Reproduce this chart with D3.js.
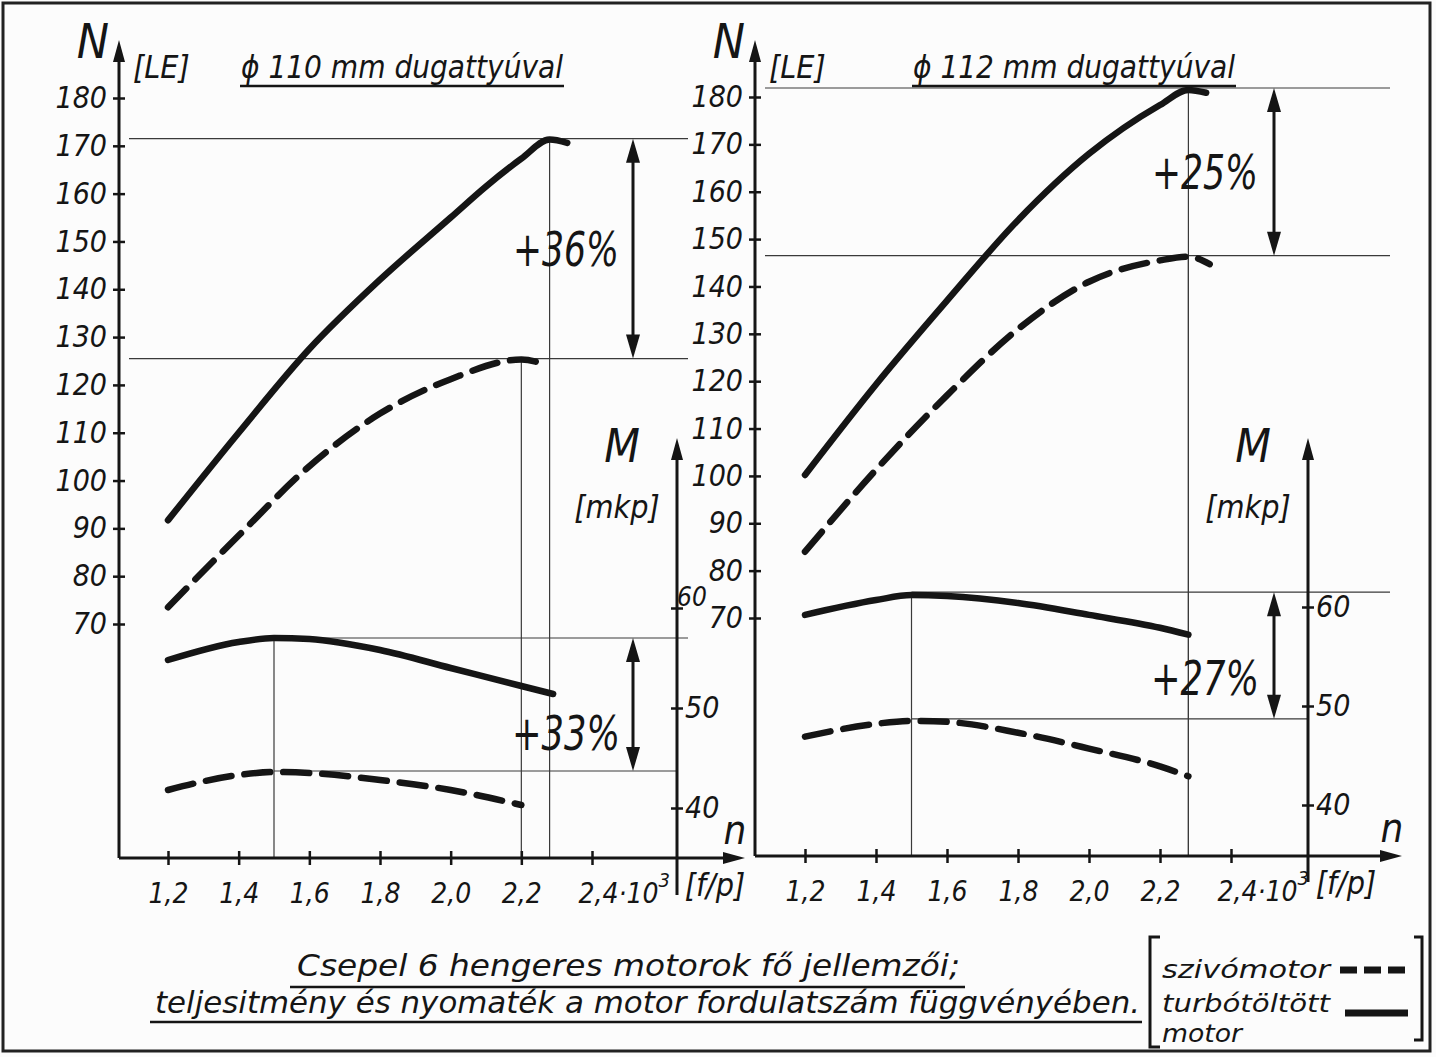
<!DOCTYPE html>
<html>
<head>
<meta charset="utf-8">
<script src="https://cdn.jsdelivr.net/npm/d3@7"></script>
<style>
  body { margin: 0; background: #fff; }
  svg text {
    font-family: "Liberation Sans Narrow", "DejaVu Sans Condensed", "Roboto Condensed", sans-serif;
    font-style: italic;
    fill: #151515;
  }
</style>
</head>
<body>
<svg></svg>
<script>
// tick values
const speedTicks = [1.2, 1.4, 1.6, 1.8, 2.0, 2.2, 2.4];
const powerTicks = [70, 80, 90, 100, 110, 120, 130, 140, 150, 160, 170, 180];
const torqueTicks = [40, 50, 60];

// left panel: ϕ 110 mm  [n (1000 f/p), value]
const leftTurboPower = [[1.2, 91.7], [1.4, 110], [1.6, 127.5], [1.8, 142], [2.0, 155], [2.1, 161.5], [2.2, 167.3], [2.28, 171.3], [2.33, 170.6]];
const leftSuctionPower = [[1.2, 73.5], [1.4, 88.5], [1.6, 103], [1.8, 114], [2.0, 121.2], [2.2, 125.3], [2.27, 124.2]];
const leftTurboTorque = [[1.2, 54.8], [1.4, 56.6], [1.5, 57], [1.6, 56.9], [1.8, 55.8], [2.0, 54.0], [2.2, 52.2], [2.29, 51.4]];
const leftSuctionTorque = [[1.2, 41.8], [1.4, 43.3], [1.5, 43.6], [1.6, 43.5], [1.8, 42.8], [2.0, 41.8], [2.2, 40.3]];

// right panel: ϕ 112 mm
const rightTurboPower = [[1.2, 100.2], [1.4, 119.3], [1.6, 137], [1.8, 154], [2.0, 168], [2.2, 178.3], [2.28, 181.5], [2.33, 180.9]];
const rightSuctionPower = [[1.2, 84], [1.4, 101.3], [1.6, 117], [1.8, 131], [2.0, 141], [2.2, 145.5], [2.28, 146.3], [2.34, 144.7]];
const rightTurboTorque = [[1.2, 59.2], [1.4, 60.7], [1.5, 61.2], [1.6, 61.1], [1.8, 60.4], [2.0, 59.2], [2.2, 57.9], [2.28, 57.2]];
const rightSuctionTorque = [[1.2, 46.9], [1.4, 48.2], [1.5, 48.5], [1.6, 48.4], [1.8, 47.3], [2.0, 45.7], [2.2, 43.9], [2.28, 42.9]];

// reference marks: peaks and gains
const leftRefs = { powerHi: 171.5, powerLo: 125.5, nHi: 2.28, nLo: 2.2, torqueHi: 57, torqueLo: 43.7, nTorque: 1.5 };
const rightRefs = { powerHi: 181.9, powerLo: 146.5, nHi: 2.28, nLo: 2.28, torqueHi: 61.5, torqueLo: 48.7, nTorque: 1.5 };
const titles = ["ϕ 110 mm dugattyúval", "ϕ 112 mm dugattyúval"];
const gains = [["+36%", "+33%"], ["+25%", "+27%"]];

const svg = d3.select("svg").attr("width", 1436).attr("height", 1057);
svg.append("rect").attr("width", 1436).attr("height", 1057).attr("fill", "#fcfcfc");
// frame of the sheet
svg.append("rect").attr("x", 3).attr("y", 3).attr("width", 1427).attr("height", 1048)
  .attr("fill", "none").attr("stroke", "#222").attr("stroke-width", 3);

const ink = "#151515";

function arrowHead(g, x, y, dir, len = 22, w = 6) {
  // dir: "up", "down", "right"
  let pts;
  if (dir === "up") pts = [[x, y], [x - w, y + len], [x + w, y + len]];
  if (dir === "down") pts = [[x, y], [x - w, y - len], [x + w, y - len]];
  if (dir === "right") pts = [[x, y], [x - len, y - w], [x - len, y + w]];
  g.append("path").attr("d", "M" + pts.join("L") + "Z").attr("fill", ink);
}

function panel(cfg, data, refs, title, gain) {
  const g = svg.append("g");
  const x = d3.scaleLinear().domain([1.2, 2.4]).range(cfg.xRange);
  const yN = d3.scaleLinear().domain([70, 180]).range(cfg.nRange);
  const yM = d3.scaleLinear().domain([40, 60]).range(cfg.mRange);

  // thin construction lines
  const thin = g.append("g").attr("stroke", "#3a3a3a").attr("stroke-width", 1.2);
  thin.append("line").attr("x1", cfg.axisX + 10).attr("x2", cfg.refEnd)
    .attr("y1", yN(refs.powerHi)).attr("y2", yN(refs.powerHi));
  thin.append("line").attr("x1", cfg.axisX + 10).attr("x2", cfg.refEnd)
    .attr("y1", yN(refs.powerLo)).attr("y2", yN(refs.powerLo));
  thin.append("line").attr("x1", x(refs.nHi)).attr("x2", x(refs.nHi))
    .attr("y1", yN(refs.powerHi)).attr("y2", cfg.baseY);
  thin.append("line").attr("x1", x(refs.nLo)).attr("x2", x(refs.nLo))
    .attr("y1", yN(refs.powerLo)).attr("y2", cfg.baseY);
  thin.append("line").attr("x1", x(refs.nTorque)).attr("x2", cfg.refEnd)
    .attr("y1", yM(refs.torqueHi)).attr("y2", yM(refs.torqueHi));
  thin.append("line").attr("x1", x(refs.nTorque)).attr("x2", cfg.mAxisX)
    .attr("y1", yM(refs.torqueLo)).attr("y2", yM(refs.torqueLo));
  thin.append("line").attr("x1", x(refs.nTorque)).attr("x2", x(refs.nTorque))
    .attr("y1", yM(refs.torqueHi)).attr("y2", cfg.baseY);

  // N axis
  g.append("line").attr("x1", cfg.axisX).attr("x2", cfg.axisX).attr("y1", cfg.axisTop + 10).attr("y2", cfg.baseY)
    .attr("stroke", ink).attr("stroke-width", 3);
  arrowHead(g, cfg.axisX, cfg.axisTop, "up");
  const axN = g.append("g").attr("transform", `translate(${cfg.axisX + 6},0)`)
    .call(d3.axisLeft(yN).tickValues(powerTicks).tickSize(12).tickPadding(6));
  axN.select(".domain").remove();
  axN.selectAll(".tick line").attr("stroke", ink).attr("stroke-width", 2.5);
  axN.selectAll(".tick text").attr("font-size", 30).attr("font-family", null).attr("fill", ink);

  // n axis
  g.append("line").attr("x1", cfg.axisX).attr("x2", cfg.xEnd - 10).attr("y1", cfg.baseY).attr("y2", cfg.baseY)
    .attr("stroke", ink).attr("stroke-width", 3);
  arrowHead(g, cfg.xEnd, cfg.baseY, "right");
  const axX = g.append("g").attr("transform", `translate(0,${cfg.baseY - 7})`)
    .call(d3.axisBottom(x).tickValues(speedTicks).tickSize(14).tickPadding(18)
      .tickFormat(d => d3.format(".1f")(d).replace(".", ",")));
  axX.select(".domain").remove();
  axX.selectAll(".tick line").attr("stroke", ink).attr("stroke-width", 2.5);
  axX.selectAll(".tick text").attr("font-size", 28).attr("font-family", null).attr("fill", ink);
  const last = axX.selectAll(".tick text").filter(d => d === 2.4)
    .attr("text-anchor", "start").attr("x", -14).text("2,4·10");
  last.append("tspan").attr("dy", -16).attr("font-size", 20).text("3");

  // M axis
  g.append("line").attr("x1", cfg.mAxisX).attr("x2", cfg.mAxisX).attr("y1", cfg.mTop + 10).attr("y2", cfg.mBottom)
    .attr("stroke", ink).attr("stroke-width", 3);
  arrowHead(g, cfg.mAxisX, cfg.mTop, "up");
  const axM = g.append("g").attr("transform", `translate(${cfg.mAxisX - 6},0)`)
    .call(d3.axisRight(yM).tickValues(torqueTicks).tickSize(12).tickPadding(2));
  axM.select(".domain").remove();
  axM.selectAll(".tick line").attr("stroke", ink).attr("stroke-width", 2.5);
  axM.selectAll(".tick text").attr("font-size", 30).attr("font-family", null).attr("fill", ink);
  if (cfg.squeeze60) {
    // the 60 label is squeezed in next to the other panel's scale
    axM.selectAll(".tick text").filter(d => d === 60)
      .attr("font-size", 26).attr("x", 6).attr("dy", "-0.1em");
  }

  // curves
  const lineN = d3.line().x(d => x(d[0])).y(d => yN(d[1])).curve(d3.curveMonotoneX);
  const lineM = d3.line().x(d => x(d[0])).y(d => yM(d[1])).curve(d3.curveMonotoneX);
  const curves = [
    [data.turboPower, lineN, null],
    [data.suctionPower, lineN, "26 13"],
    [data.turboTorque, lineM, null],
    [data.suctionTorque, lineM, "26 13"]
  ];
  curves.forEach(([pts, gen, dash]) => {
    g.append("path").attr("d", gen(pts)).attr("fill", "none").attr("stroke", ink)
      .attr("stroke-width", 6.5).attr("stroke-linecap", "round").attr("stroke-dasharray", dash);
  });

  // gain arrows
  const dbl = (y1, y2) => {
    g.append("line").attr("x1", cfg.gainX).attr("x2", cfg.gainX).attr("y1", y1 + 15).attr("y2", y2 - 15)
      .attr("stroke", ink).attr("stroke-width", 3);
    arrowHead(g, cfg.gainX, y1, "up", 24, 7);
    arrowHead(g, cfg.gainX, y2, "down", 24, 7);
  };
  dbl(yN(refs.powerHi), yN(refs.powerLo));
  dbl(yM(refs.torqueHi), yM(refs.torqueLo));
  g.append("text").attr("x", cfg.gainTextX).attr("y", (yN(refs.powerHi) + yN(refs.powerLo)) / 2 + 17)
    .attr("text-anchor", "middle").attr("font-size", 48)
    .attr("textLength", 106).attr("lengthAdjust", "spacingAndGlyphs").text(gain[0]);
  g.append("text").attr("x", cfg.gainTextX).attr("y", cfg.torqueGainY)
    .attr("text-anchor", "middle").attr("font-size", 48)
    .attr("textLength", 108).attr("lengthAdjust", "spacingAndGlyphs").text(gain[1]);

  // labels
  g.append("text").attr("x", cfg.axisX - 26).attr("y", cfg.axisTop + 18).attr("text-anchor", "middle")
    .attr("font-size", 48).text("N");
  g.append("text").attr("x", cfg.axisX + 14).attr("y", cfg.axisTop + 38).attr("font-size", 32).text("[LE]");
  g.append("text").attr("x", cfg.titleX).attr("y", cfg.axisTop + 38).attr("text-anchor", "middle")
    .attr("font-size", 32).attr("textLength", 322).attr("lengthAdjust", "spacingAndGlyphs").text(title);
  g.append("line").attr("x1", cfg.titleX - 162).attr("x2", cfg.titleX + 162)
    .attr("y1", cfg.axisTop + 46).attr("y2", cfg.axisTop + 46).attr("stroke", ink).attr("stroke-width", 2.5);
  g.append("text").attr("x", cfg.mAxisX - 55).attr("y", cfg.mTop + 24).attr("text-anchor", "middle")
    .attr("font-size", 46).text("M");
  g.append("text").attr("x", cfg.mAxisX - 60).attr("y", cfg.mTop + 80).attr("text-anchor", "middle")
    .attr("font-size", 32).text("[mkp]");
  g.append("text").attr("x", cfg.xEnd - 10).attr("y", cfg.baseY - 14).attr("text-anchor", "middle")
    .attr("font-size", 40).text("n");
  g.append("text").attr("x", cfg.mAxisX + 38).attr("y", cfg.baseY + 38).attr("text-anchor", "middle")
    .attr("font-size", 32).text("[f/p]");
}

panel(
  { xRange: [168, 592], nRange: [624, 98], mRange: [808, 608], axisX: 119, axisTop: 40, baseY: 858,
    xEnd: 745, mAxisX: 677, mTop: 438, mBottom: 895, refEnd: 688, gainX: 633, gainTextX: 566,
    torqueGainY: 750, titleX: 402, squeeze60: true },
  { turboPower: leftTurboPower, suctionPower: leftSuctionPower, turboTorque: leftTurboTorque, suctionTorque: leftSuctionTorque },
  leftRefs, titles[0], gains[0]
);
panel(
  { xRange: [805, 1231], nRange: [618, 97], mRange: [805, 607], axisX: 755, axisTop: 40, baseY: 856,
    xEnd: 1402, mAxisX: 1308, mTop: 438, mBottom: 882, refEnd: 1390, gainX: 1274, gainTextX: 1205,
    torqueGainY: 695, titleX: 1074 },
  { turboPower: rightTurboPower, suctionPower: rightSuctionPower, turboTorque: rightTurboTorque, suctionTorque: rightSuctionTorque },
  rightRefs, titles[1], gains[1]
);

// caption
const caption = ["Csepel 6 hengeres motorok fő jellemzői;", "teljesitmény és nyomaték a motor fordulatszám függvényében."];
svg.append("text").attr("x", 297).attr("y", 976).attr("font-size", 31)
  .attr("textLength", 663).attr("lengthAdjust", "spacingAndGlyphs").text(caption[0]);
svg.append("line").attr("x1", 290).attr("x2", 965).attr("y1", 987).attr("y2", 987).attr("stroke", ink).attr("stroke-width", 2.5);
svg.append("text").attr("x", 155).attr("y", 1013).attr("font-size", 31)
  .attr("textLength", 985).attr("lengthAdjust", "spacingAndGlyphs").text(caption[1]);
svg.append("line").attr("x1", 150).attr("x2", 1142).attr("y1", 1022).attr("y2", 1022).attr("stroke", ink).attr("stroke-width", 2.5);

// legend
const legendLabels = ["szivómotor", "turbótöltött", "motor"];
const lg = svg.append("g");
lg.append("path").attr("d", "M1160,937H1150V1047H1160").attr("fill", "none").attr("stroke", ink).attr("stroke-width", 3);
lg.append("path").attr("d", "M1414,937H1422V1040H1414").attr("fill", "none").attr("stroke", ink).attr("stroke-width", 3);
lg.selectAll("text.lbl").data(legendLabels).enter().append("text").attr("class", "lbl")
  .attr("x", 1162).attr("y", (d, i) => [978, 1012, 1042][i]).attr("font-size", 25)
  .attr("textLength", (d, i) => [168, 168, 80][i]).attr("lengthAdjust", "spacingAndGlyphs")
  .text(d => d);
lg.append("line").attr("x1", 1340).attr("x2", 1408).attr("y1", 970).attr("y2", 970)
  .attr("stroke", ink).attr("stroke-width", 7).attr("stroke-dasharray", "17 7");
lg.append("line").attr("x1", 1345).attr("x2", 1408).attr("y1", 1013).attr("y2", 1013)
  .attr("stroke", ink).attr("stroke-width", 7);
</script>
</body>
</html>
